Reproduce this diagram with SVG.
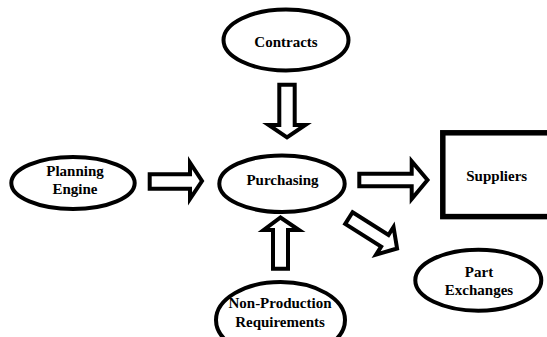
<svg xmlns="http://www.w3.org/2000/svg" width="547" height="337" viewBox="0 0 547 337">
<style>
.node{fill:#fff;stroke:#000;stroke-width:4}
.box{fill:#fff;stroke:#000;stroke-width:5.5}
.arr{fill:#fff;stroke:#000;stroke-width:4;stroke-linejoin:miter;stroke-miterlimit:10}
.lbl{font-family:"Liberation Serif","Times New Roman",serif;font-weight:bold;font-size:15px;fill:#000;text-anchor:middle}
</style>
<rect width="547" height="337" fill="#fff"/>
<g id="connectors">
<polygon class="arr" points="279.3,84.7 294.7,84.7 294.7,125 305.3,125 287,137.3 268.7,125 279.3,125"/>
<polygon class="arr" points="149.7,174.3 190,174.3 190,162.7 202,181 190,199 190,188.7 149.7,188.7"/>
<polygon class="arr" points="359.3,173.7 411.7,173.7 411.7,161.3 427.5,180 411.7,199 411.7,186.3 359.3,186.3"/>
<polygon class="arr" points="273,268.7 288,268.7 288,230 299,230 280.5,217.5 263.7,230 273,230"/>
<polygon class="arr" transform="translate(347.2,217) rotate(32.3)" points="2,-6.9 44.5,-6.9 44.5,-16.3 59,0 44.5,16.3 44.5,6.9 2,6.9"/>
</g>
<g id="contracts">
<ellipse class="node" cx="286" cy="40" rx="62.5" ry="30.5"/>
<text class="lbl" x="286" y="46.7">Contracts</text>
</g>
<g id="purchasing">
<ellipse class="node" cx="282" cy="183.7" rx="62.7" ry="28.3"/>
<text class="lbl" x="282.5" y="185">Purchasing</text>
</g>
<g id="planning-engine">
<ellipse class="node" cx="73" cy="183" rx="61.7" ry="26"/>
<text class="lbl" x="75" y="176">Planning</text>
<text class="lbl" x="75" y="194.3">Engine</text>
</g>
<g id="suppliers">
<rect class="box" x="442.8" y="132.8" width="120" height="83.8"/>
<text class="lbl" x="496.7" y="181">Suppliers</text>
</g>
<g id="part-exchanges">
<ellipse class="node" cx="478.3" cy="280.2" rx="63" ry="30.5"/>
<text class="lbl" x="479" y="277.3">Part</text>
<text class="lbl" x="479" y="295">Exchanges</text>
</g>
<g id="non-production-requirements">
<ellipse class="node" cx="280.5" cy="320" rx="64.5" ry="38"/>
<text class="lbl" x="280" y="308.3">Non-Production</text>
<text class="lbl" x="280" y="326.7">Requirements</text>
</g>
</svg>
